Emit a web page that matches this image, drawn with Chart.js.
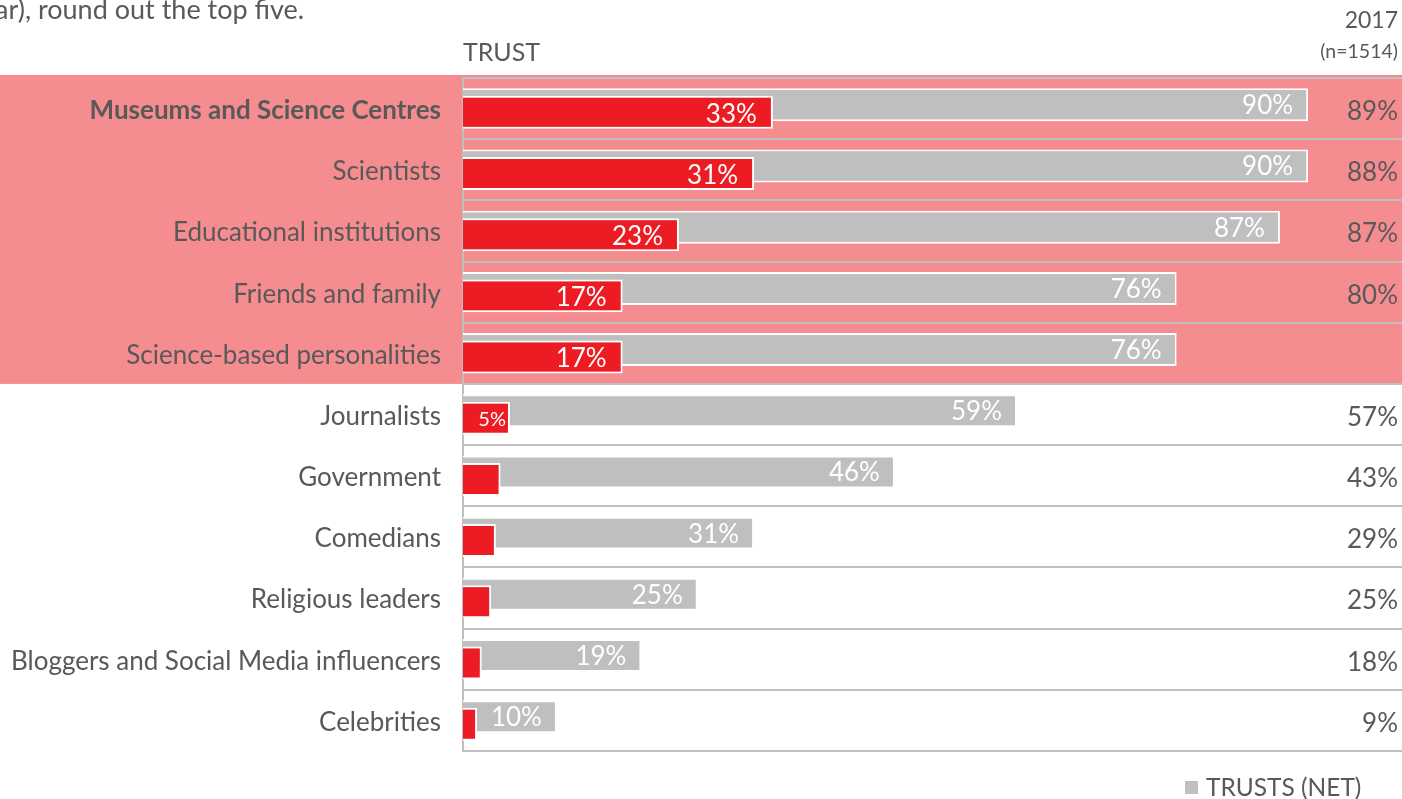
<!DOCTYPE html>
<html>
<head>
<meta charset="utf-8">
<title>Trust</title>
<script src="https://cdn.jsdelivr.net/npm/chart.js@4.4.1/dist/chart.umd.min.js"></script>
<style>
  html, body { margin: 0; padding: 0; background: #fff; }
  body { width: 1402px; height: 799px; position: relative; overflow: hidden;
         font-family: Lato, sans-serif; color: #595959; }
  #wrap { position: absolute; left: 0; top: 0; width: 1402px; height: 799px; }
  .txt { position: absolute; white-space: nowrap; line-height: 1; }
  .legend-box { position: absolute; width: 13px; height: 13px; background: #BFBFBF; }
</style>
</head>
<body>
<div id="wrap"><canvas id="trustChart"></canvas></div>

<div class="txt" style="left:-5px; top:-5px; font-size:27px;">ar), round out the top five.</div>
<div class="txt" style="left:463px; top:39px; font-size:25px;">TRUST</div>
<div class="txt" style="right:4px; top:8px; font-size:23px;">2017</div>
<div class="txt" style="right:4px; top:41px; font-size:19.5px;">(n=1514)</div>

<div class="legend-box" style="left:1185px; top:781px;"></div>
<div class="txt" style="left:1206px; top:775px; font-size:24.5px;">TRUSTS (NET)</div>

<script>
// --- Data ---
const categories = [
  'Museums and Science Centres',
  'Scientists',
  'Educational institutions',
  'Friends and family',
  'Science-based personalities',
  'Journalists',
  'Government',
  'Comedians',
  'Religious leaders',
  'Bloggers and Social Media influencers',
  'Celebrities'
];
const trustNet = [90, 90, 87, 76, 76, 59, 46, 31, 25, 19, 10];
const trustCompletely = [33, 31, 23, 17, 17, 5, 4, 3.5, 3, 2, 1.5];
const trust2017 = [89, 88, 87, 80, null, 57, 43, 29, 25, 18, 9];
const topFiveCount = 5;

const FONT = 'Lato, sans-serif';
const TEXT_GREY = '#595959';
const BAR_GREY = '#BFBFBF';
const BAR_RED = '#ED1C24';
const BAND_PINK = '#F58C8F';

// Pink band behind the top five rows
const bandPlugin = {
  id: 'topBand',
  beforeDraw(chart) {
    const { ctx, chartArea, scales } = chart;
    const y = scales.y;
    const step = y.getPixelForValue(1) - y.getPixelForValue(0);
    const bottom = y.getPixelForValue(topFiveCount - 1) + step / 2;
    ctx.save();
    ctx.fillStyle = BAND_PINK;
    ctx.fillRect(0, chartArea.top - 3, chart.width, bottom - chartArea.top + 3);
    ctx.restore();
  }
};

// Red bars have to sit on top of the grey ones, so draw them last
const redOnTop = {
  id: 'redOnTop',
  beforeDatasetDraw(chart, args) {
    if (args.index === 1) return false;
  },
  afterDatasetsDraw(chart) {
    const meta = chart.getDatasetMeta(1);
    if (!meta.hidden) meta.controller.draw();
  }
};

// Value labels inside the bars plus the 2017 column on the right
const labelPlugin = {
  id: 'valueLabels',
  afterDraw(chart) {
    const { ctx, scales } = chart;
    ctx.save();
    ctx.textBaseline = 'middle';

    chart.getDatasetMeta(0).data.forEach((bar, i) => {
      ctx.font = `26px ${FONT}`;
      ctx.fillStyle = '#fff';
      ctx.textAlign = 'right';
      ctx.fillText(trustNet[i] + '%', bar.x - 15, bar.y + 1);
    });

    chart.getDatasetMeta(1).data.forEach((bar, i) => {
      const v = trustCompletely[i];
      if (v < 5) return;
      ctx.fillStyle = '#fff';
      ctx.textAlign = 'right';
      if (v < 10) {
        ctx.font = `20px ${FONT}`;
        ctx.fillText(v + '%', bar.x - 4, bar.y + 1);
      } else {
        ctx.font = `26px ${FONT}`;
        ctx.fillText(v + '%', bar.x - 16, bar.y + 2);
      }
    });

    ctx.font = `26px ${FONT}`;
    ctx.fillStyle = TEXT_GREY;
    ctx.textAlign = 'right';
    trust2017.forEach((v, i) => {
      if (v === null) return;
      ctx.fillText(v + '%', chart.width - 4, scales.y.getPixelForValue(i) + 3);
    });
    ctx.restore();
  }
};

const ctx = document.getElementById('trustChart').getContext('2d');
const trustChart = new Chart(ctx, {
  type: 'bar',
  data: {
    labels: categories,
    datasets: [
      {
        label: 'TRUSTS (NET)',
        data: trustNet,
        backgroundColor: BAR_GREY,
        borderColor: '#fff',
        borderWidth: 2
      },
      {
        label: 'TRUST COMPLETELY',
        data: trustCompletely,
        backgroundColor: BAR_RED,
        borderColor: '#fff',
        borderWidth: 2
      }
    ]
  },
  options: {
    indexAxis: 'y',
    responsive: true,
    maintainAspectRatio: false,
    animation: false,
    // overlapping slots: each bar is wider than its own slot
    categoryPercentage: 0.245,
    barPercentage: 4.4,
    layout: { padding: { top: 78, bottom: 48, left: 0, right: 0 } },
    plugins: {
      legend: { display: false },
      tooltip: { enabled: false }
    },
    scales: {
      x: {
        display: false,
        min: 0,
        max: 100
      },
      y: {
        grid: { offset: true, color: BAR_GREY, lineWidth: 2, drawTicks: false },
        border: { display: true, color: BAR_GREY, width: 2 },
        ticks: {
          padding: 22,
          labelOffset: 2,
          color: TEXT_GREY,
          font: (c) => ({ family: FONT, size: 26, weight: c.index === 0 ? 'bold' : 'normal' })
        },
        afterFit(scale) { scale.width = 463; }
      }
    }
  },
  plugins: [bandPlugin, redOnTop, labelPlugin]
});
</script>
</body>
</html>
